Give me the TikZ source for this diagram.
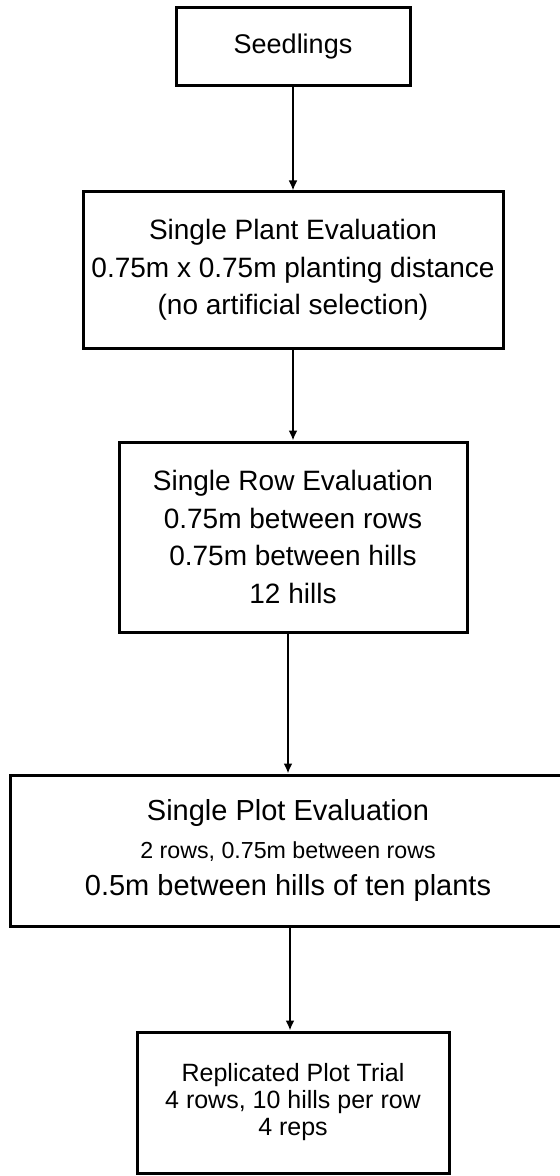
\documentclass[tikz,border=0pt]{standalone}
\usepackage{fontspec}
\setmainfont{Liberation Sans}
\usetikzlibrary{arrows.meta}

\begin{document}
\begin{tikzpicture}[x=0.5pt,y=-0.5pt,
		stage/.style={draw,line width=1.5pt,inner sep=0pt,align=center,font=\fontsize{14}{18.75}\selectfont},
		flow/.style={line width=1.4pt,-{Latex[length=5pt,width=4.5pt]}}]
				\useasboundingbox (0,0) rectangle (560,1176);
				\node[stage,minimum width=117pt,minimum height=39pt,font=\fontsize{13.5}{16}\selectfont] (seed) at (293,47) {Seedlings};
				\node[stage,minimum width=210pt,minimum height=78pt] (plant) at (293,270) {Single Plant Evaluation\\0.75m x 0.75m planting distance\\(no artificial selection)};
				\node[stage,minimum width=174pt,minimum height=95pt] (row) at (293,537) {Single Row Evaluation\\0.75m between rows\\0.75m between hills\\12 hills};
				\node[stage,minimum width=278pt,minimum height=75.5pt,font=\fontsize{14.5}{18.75}\selectfont] (plot) at (288,850.5) {Single Plot Evaluation\\{\fontsize{11.6}{18.75}\selectfont 2 rows, 0.75m between rows}\\0.5m between hills of ten plants};
				\node[stage,minimum width=156pt,minimum height=70.5pt,font=\fontsize{12.5}{13.5}\selectfont] (trial) at (293,1102.5) {Replicated Plot Trial\\4 rows, 10 hills per row\\4 reps};
				% connectors
				\draw[flow] (seed.south) -- (seed.south |- plant.north);
				\draw[flow] (plant.south) -- (plant.south |- row.north);
				\draw[flow] (plot.north |- row.south) -- (plot.north);
				\draw[flow] ([xshift=1pt]plot.south) -- ([xshift=1pt]plot.south |- trial.north);
\end{tikzpicture}
\end{document}
